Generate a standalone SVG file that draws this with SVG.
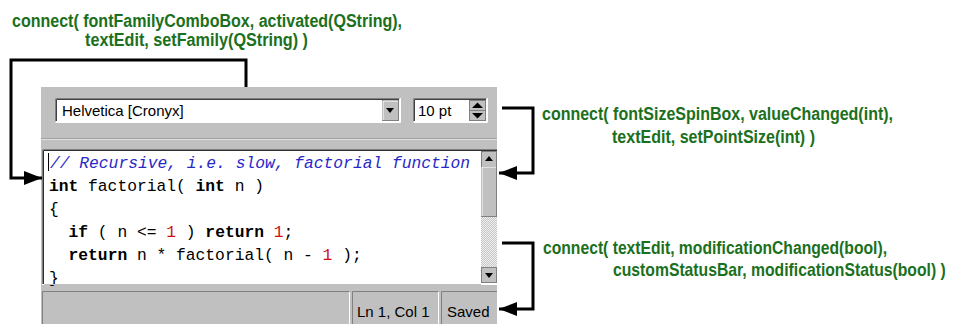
<svg xmlns="http://www.w3.org/2000/svg" width="955" height="324" viewBox="0 0 955 324">
  <defs>
    <style>
      .sig { font-family: "Liberation Sans", Arial, sans-serif; font-weight: bold; font-size: 18px; fill: #1b7020; }
      .ui { font-family: "Liberation Sans", Arial, sans-serif; font-size: 15px; fill: #000; }
      .code { font-family: "Liberation Mono", "Courier New", monospace; font-size: 16.3px; fill: #000; white-space: pre; }
      .kw { font-weight: bold; }
      .num { fill: #d01010; }
      .cmt { fill: #2828c8; font-style: italic; }
      .wire { fill: none; stroke: #000; stroke-width: 3; }
      .sunk-dark { stroke: #808080; stroke-width: 1; fill: none; }
      .sunk-light { stroke: #ffffff; stroke-width: 1; fill: none; }
      .btn { fill: #c0c0c0; stroke: #808080; stroke-width: 1; }
    </style>
    <marker id="arrow" viewBox="0 0 18 14" refX="18" refY="7" markerWidth="18" markerHeight="14" markerUnits="userSpaceOnUse" orient="auto">
      <path d="M0,0 L18,7 L0,14 Z" fill="#000"/>
    </marker>
    <pattern id="dither" width="2" height="2" patternUnits="userSpaceOnUse">
      <rect width="2" height="2" fill="#c8c8c8"/>
      <rect width="1" height="1" fill="#eeeeee"/>
      <rect x="1" y="1" width="1" height="1" fill="#eeeeee"/>
    </pattern>
  </defs>

  <rect width="955" height="324" fill="#fff"/>

  <!-- editor window -->
  <g id="window">
    <rect x="41" y="87" width="456" height="237" fill="#c0c0c0"/>
    <line x1="41" y1="138.5" x2="497" y2="138.5" stroke="#a0a0a0"/>
    <line x1="41" y1="139.5" x2="497" y2="139.5" stroke="#e0e0e0"/>
  </g>

  <!-- font family combo box -->
  <g id="fontFamilyComboBox">
    <rect x="55" y="98" width="345" height="24" fill="#fff"/>
    <path class="sunk-dark" d="M55.5,121.5 V98.5 H399.5"/>
    <path d="M56.5,121 V99.5 H399" stroke="#404040" fill="none"/>
    <path class="sunk-light" d="M55.5,122.5 H400.5 V98"/>
    <rect class="btn" x="382.5" y="100.5" width="16" height="20"/>
    <path d="M383,120 V101 H398" stroke="#fff" fill="none"/>
    <path d="M386,108 H394 L390,113 Z" fill="#000"/>
    <text class="ui" x="62" y="116">Helvetica [Cronyx]</text>
  </g>

  <!-- font size spin box -->
  <g id="fontSizeSpinBox">
    <rect x="413" y="98" width="74" height="24" fill="#fff"/>
    <path class="sunk-dark" d="M413.5,121.5 V98.5 H486.5"/>
    <path d="M414.5,121 V99.5 H486" stroke="#404040" fill="none"/>
    <path class="sunk-light" d="M413.5,122.5 H487.5 V98"/>
    <rect class="btn" x="469.5" y="100.5" width="16" height="10"/>
    <rect class="btn" x="469.5" y="110.5" width="16" height="10"/>
    <path d="M472,108 H483 L477.5,102.5 Z" fill="#000"/>
    <path d="M472,113 H483 L477.5,118.5 Z" fill="#000"/>
    <text class="ui" x="418" y="116">10 pt</text>
  </g>

  <!-- text editor -->
  <g id="textEdit">
    <rect x="42" y="149" width="455" height="135" fill="#fff"/>
    <path d="M42.5,284 V149.5 H497" stroke="#808080" fill="none"/>
    <path d="M43.5,284 V150.5 H497" stroke="#303030" fill="none"/>
    <line x1="42" y1="284.5" x2="497" y2="284.5" stroke="#fff"/>
    <!-- vertical scroll bar -->
    <rect x="481" y="151" width="16" height="132" fill="url(#dither)"/>
    <rect class="btn" x="481.5" y="151.5" width="15" height="15"/>
    <path d="M485,161 H493 L489,156 Z" fill="#000"/>
    <rect class="btn" x="481.5" y="166.5" width="15" height="50"/>
    <path d="M482,216 V167 H496" stroke="#fff" fill="none"/>
    <rect class="btn" x="481.5" y="267.5" width="15" height="15"/>
    <path d="M485,273 H493 L489,278 Z" fill="#000"/>
    <!-- code -->
    <line x1="48.5" y1="153" x2="48.5" y2="171" stroke="#000"/>
    <text class="code cmt" x="50" y="168">// Recursive, i.e. slow, factorial function</text>
    <text class="code" x="49" y="191"><tspan class="kw">int</tspan> factorial( <tspan class="kw">int</tspan> n )</text>
    <text class="code" x="49" y="214">{</text>
    <text class="code" x="49" y="237">  <tspan class="kw">if</tspan> ( n &lt;= <tspan class="num">1</tspan> ) <tspan class="kw">return</tspan> <tspan class="num">1</tspan>;</text>
    <text class="code" x="49" y="260">  <tspan class="kw">return</tspan> n * factorial( n - <tspan class="num">1</tspan> );</text>
    <text class="code" x="49" y="283">}</text>
    <rect x="44" y="284" width="437" height="1" fill="#c0c0c0"/>
  </g>

  <!-- status bar -->
  <g id="customStatusBar">
    <path class="sunk-dark" d="M42.5,324 V291.5 H349.5"/>
    <path class="sunk-light" d="M349.5,292 V324"/>
    <path class="sunk-dark" d="M352.5,324 V291.5 H438.5"/>
    <path class="sunk-light" d="M438.5,292 V324"/>
    <path class="sunk-dark" d="M441.5,324 V291.5 H497"/>
    <text class="ui" x="357" y="317">Ln 1, Col 1</text>
    <text class="ui" x="447" y="317">Saved</text>
  </g>

  <!-- signal/slot connections -->
  <g id="connectors">
    <path class="wire" d="M246,87 V60 H11 V178 H42" marker-end="url(#arrow)"/>
    <path class="wire" d="M502,108 H533 V173 H499" marker-end="url(#arrow)"/>
    <path class="wire" d="M502,243 H533 V309 H499" marker-end="url(#arrow)"/>
  </g>

  <g id="label-family">
    <text class="sig" x="12" y="27" textLength="390" lengthAdjust="spacingAndGlyphs">connect( fontFamilyComboBox, activated(QString),</text>
    <text class="sig" x="85" y="46" textLength="223" lengthAdjust="spacingAndGlyphs">textEdit, setFamily(QString) )</text>
  </g>
  <g id="label-size">
    <text class="sig" x="542" y="120" textLength="351" lengthAdjust="spacingAndGlyphs">connect( fontSizeSpinBox, valueChanged(int),</text>
    <text class="sig" x="612" y="143" textLength="203" lengthAdjust="spacingAndGlyphs">textEdit, setPointSize(int) )</text>
  </g>
  <g id="label-status">
    <text class="sig" x="543" y="254" textLength="344" lengthAdjust="spacingAndGlyphs">connect( textEdit, modificationChanged(bool),</text>
    <text class="sig" transform="translate(613,276) scale(0.874,1)">customStatusBar, modificationStatus(bool) )</text>
  </g>
</svg>
